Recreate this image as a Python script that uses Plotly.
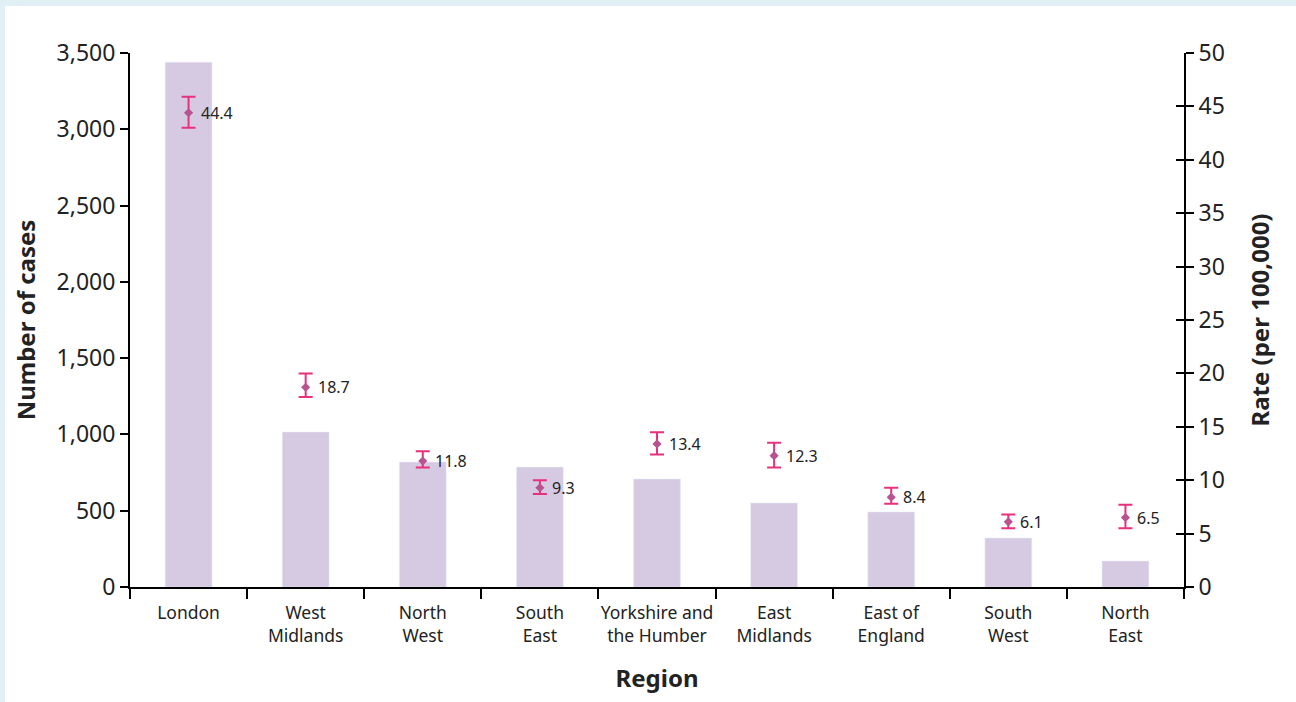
import plotly.graph_objects as go

regions = ["London", "West<br>Midlands", "North<br>West", "South<br>East",
           "Yorkshire and<br>the Humber", "East<br>Midlands", "East of<br>England",
           "South<br>West", "North<br>East"]
cases = [3440, 1016, 819, 786, 708, 551, 492, 321, 170]
rate = [44.4, 18.7, 11.8, 9.3, 13.4, 12.3, 8.4, 6.1, 6.5]
rate_upper = [45.9, 20.0, 12.7, 10.0, 14.5, 13.5, 9.3, 6.8, 7.7]
rate_lower = [43.0, 17.8, 11.2, 8.7, 12.4, 11.2, 7.8, 5.5, 5.5]

err_plus = [u - r for u, r in zip(rate_upper, rate)]
err_minus = [r - l for r, l in zip(rate, rate_lower)]

FONT = "Noto Sans"
TXT = "#222222"

fig = go.Figure()
fig.add_trace(go.Bar(
    x=regions, y=cases, marker_color="#d6cae3", width=0.4,
    yaxis="y", showlegend=False,
))
fig.add_trace(go.Scatter(
    x=regions, y=rate, yaxis="y2", mode="markers",
    marker=dict(symbol="diamond", size=7, color="#b9538f"),
    error_y=dict(type="data", symmetric=False, array=err_plus, arrayminus=err_minus,
                 color="#e8307c", thickness=2, width=7),
    showlegend=False,
))

for reg, r in zip(regions, rate):
    fig.add_annotation(x=reg, y=r, yref="y2", text=f"{r}", showarrow=False,
                       xanchor="left", xshift=10, font=dict(size=16, color=TXT, family=FONT))

# plot-area geometry in pixels for the background frame
W, H = 1296, 702
L, R, T, B = 130, 112, 53, 115
pw, ph = W - L - R, H - T - B
def px(x):
    return (x - L) / pw
def py(y):
    return (H - B - y) / ph

frame = "#e0f0f4"
fig.add_shape(type="rect", xref="paper", yref="paper", x0=px(0), x1=px(W), y0=py(0), y1=py(6),
              fillcolor=frame, line_width=0, layer="below")
fig.add_shape(type="rect", xref="paper", yref="paper", x0=px(0), x1=px(5), y0=py(0), y1=py(H + 5),
              fillcolor=frame, line_width=0, layer="below")

title_font = dict(size=24, color=TXT, family=FONT)
axis_common = dict(showline=True, linecolor="black", linewidth=2, ticks="outside",
                   tickcolor="black", tickwidth=2, showgrid=False, zeroline=False,
                   automargin=False, tickfont=dict(size=23, color=TXT, family=FONT))

fig.update_layout(
    width=W, height=H,
    margin=dict(l=L, r=R, t=T, b=B, autoexpand=False),
    paper_bgcolor="white", plot_bgcolor="white",
    font=dict(family=FONT, color=TXT),
    xaxis=dict(showline=True, linecolor="black", linewidth=2, ticks="outside",
               tickson="boundaries", ticklen=10, tickcolor="black", tickwidth=2,
               showgrid=False, range=[-0.5, 8.5], tickangle=0, automargin=False,
               ticklabelstandoff=9,
               tickfont=dict(size=17.5, color=TXT, family=FONT),
               title=dict(text="<b>Region</b>", font=title_font, standoff=24)),
    yaxis=dict(range=[0, 3500], tickvals=[0, 500, 1000, 1500, 2000, 2500, 3000, 3500],
               tickformat=",", ticklen=8,
               title=dict(text="<b>Number of cases</b>", font=title_font, standoff=14),
               **axis_common),
    yaxis2=dict(range=[0, 50], dtick=5, overlaying="y", side="right", ticklen=8,
                title=dict(text="<b>Rate (per 100,000)</b>", font=title_font, standoff=28),
                **axis_common),
    yaxis3=dict(range=[0, 50], dtick=5, overlaying="y", side="right", ticks="inside",
                ticklen=8, tickcolor="black", tickwidth=2, showticklabels=False,
                showgrid=False, zeroline=False, showline=False, automargin=False),
)
# invisible trace to activate the inner tick axis
fig.add_trace(go.Scatter(x=[regions[0]], y=[0], yaxis="y3", mode="markers",
                         marker=dict(opacity=0), showlegend=False, hoverinfo="skip"))

fig.write_html("out.html")
